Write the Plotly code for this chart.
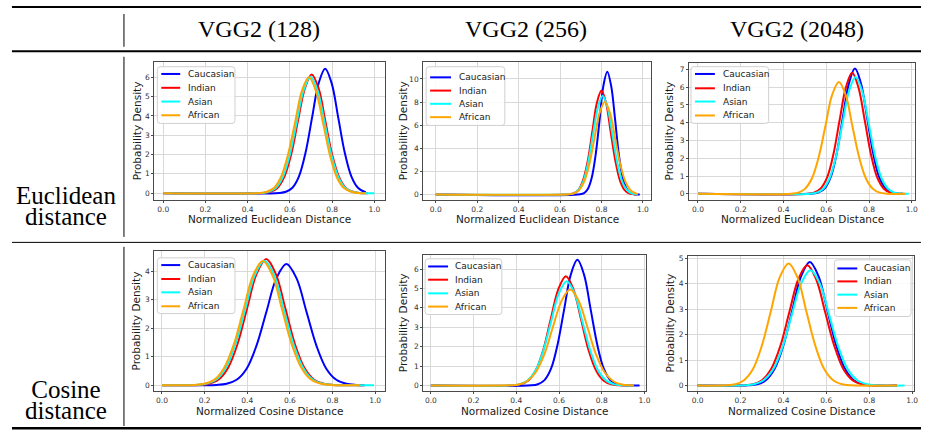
import plotly.graph_objects as go

# ---------------- data ----------------
GROUPS = ["Caucasian", "Indian", "Asian", "African"]
GROUP_COLORS = ["#0000ff", "#ff0000", "#00ffff", "#ffa500"]
COLUMN_TITLES = ["VGG2 (128)", "VGG2 (256)", "VGG2 (2048)"]
ROW_TITLES = [["Euclidean", "distance"], ["Cosine", "distance"]]
X_AXIS_TITLES = ["Normalized Euclidean Distance", "Normalized Cosine Distance"]
Y_AXIS_TITLE = "Probability Density"
X_TICKS = [0.0, 0.2, 0.4, 0.6, 0.8, 1.0]
Y_TICKS_EUC128 = [0, 1, 2, 3, 4, 5, 6]
Y_TICKS_EUC256 = [0, 2, 4, 6, 8, 10]
Y_TICKS_EUC2048 = [0, 1, 2, 3, 4, 5, 6, 7]
Y_TICKS_COS128 = [0, 1, 2, 3, 4]
Y_TICKS_COS256 = [0, 1, 2, 3, 4, 5, 6]
Y_TICKS_COS2048 = [0, 1, 2, 3, 4, 5]

# Euclidean, VGG2 (128)
EUC128_CAUCASIAN_X = [0.0, 0.550, 0.581, 0.612, 0.643, 0.674, 0.705, 0.736, 0.767, 0.798, 0.829, 0.860, 0.891, 0.922, 0.953, 0.960]
EUC128_CAUCASIAN_Y = [0.0, 0.01, 0.07, 0.28, 0.87, 2.09, 3.91, 5.69, 6.45, 5.69, 3.91, 2.09, 0.87, 0.28, 0.07, 0.05]
EUC128_INDIAN_X = [0.0, 0.476, 0.508, 0.541, 0.573, 0.606, 0.638, 0.671, 0.703, 0.736, 0.768, 0.800, 0.833, 0.865, 0.898, 0.930, 0.970]
EUC128_INDIAN_Y = [0.0, 0.01, 0.07, 0.27, 0.83, 2.00, 3.73, 5.43, 6.15, 5.43, 3.73, 2.00, 0.83, 0.27, 0.07, 0.01, 0.0]
EUC128_ASIAN_X = [0.0, 0.467, 0.500, 0.533, 0.566, 0.599, 0.632, 0.665, 0.698, 0.731, 0.764, 0.797, 0.830, 0.863, 0.896, 0.929, 1.0]
EUC128_ASIAN_Y = [0.0, 0.01, 0.07, 0.26, 0.82, 1.96, 3.66, 5.32, 6.03, 5.32, 3.66, 1.96, 0.82, 0.26, 0.07, 0.01, 0.0]
EUC128_AFRICAN_X = [0.0, 0.457, 0.491, 0.524, 0.557, 0.590, 0.624, 0.657, 0.690, 0.723, 0.757, 0.790, 0.823, 0.856, 0.890, 0.923, 0.960]
EUC128_AFRICAN_Y = [0.0, 0.01, 0.07, 0.26, 0.81, 1.95, 3.64, 5.30, 6.00, 5.30, 3.64, 1.95, 0.81, 0.26, 0.07, 0.01, 0.0]

# Euclidean, VGG2 (256)
EUC256_CAUCASIAN_X = [0.0, 0.697, 0.716, 0.734, 0.753, 0.772, 0.791, 0.809, 0.828, 0.847, 0.866, 0.884, 0.903, 0.922, 0.941, 0.959, 0.985]
EUC256_CAUCASIAN_Y = [0.0, 0.02, 0.12, 0.47, 1.44, 3.45, 6.45, 9.38, 10.63, 9.38, 6.45, 3.45, 1.44, 0.47, 0.12, 0.02, 0.0]
EUC256_INDIAN_X = [0.0, 0.645, 0.667, 0.689, 0.711, 0.734, 0.756, 0.778, 0.800, 0.822, 0.844, 0.867, 0.889, 0.911, 0.933, 0.955, 0.970]
EUC256_INDIAN_Y = [0.0, 0.02, 0.10, 0.40, 1.22, 2.92, 5.46, 7.94, 9.00, 7.94, 5.46, 2.92, 1.22, 0.40, 0.10, 0.02, 0.0]
EUC256_ASIAN_X = [0.0, 0.643, 0.666, 0.689, 0.713, 0.736, 0.759, 0.783, 0.806, 0.829, 0.853, 0.876, 0.899, 0.923, 0.946, 0.969, 0.975]
EUC256_ASIAN_Y = [0.0, 0.02, 0.09, 0.38, 1.16, 2.78, 5.19, 7.55, 8.55, 7.55, 5.19, 2.78, 1.16, 0.38, 0.09, 0.02, 0.01]
EUC256_AFRICAN_X = [0.0, 0.641, 0.666, 0.691, 0.716, 0.741, 0.766, 0.791, 0.816, 0.841, 0.866, 0.891, 0.916, 0.941, 0.966, 0.975]
EUC256_AFRICAN_Y = [0.0, 0.02, 0.09, 0.35, 1.08, 2.60, 4.85, 7.06, 8.00, 7.06, 4.85, 2.60, 1.08, 0.35, 0.09, 0.04]

# Euclidean, VGG2 (2048)
EUC2048_CAUCASIAN_X = [0.0, 0.536, 0.564, 0.593, 0.621, 0.649, 0.677, 0.706, 0.734, 0.762, 0.791, 0.819, 0.847, 0.876, 0.904, 0.933, 0.960]
EUC2048_CAUCASIAN_Y = [0.0, 0.02, 0.08, 0.31, 0.95, 2.29, 4.27, 6.21, 7.04, 6.21, 4.27, 2.29, 0.95, 0.31, 0.08, 0.02, 0.0]
EUC2048_INDIAN_X = [0.0, 0.516, 0.545, 0.574, 0.604, 0.633, 0.662, 0.692, 0.721, 0.750, 0.780, 0.809, 0.838, 0.868, 0.897, 0.927, 0.960]
EUC2048_INDIAN_Y = [0.0, 0.01, 0.08, 0.30, 0.92, 2.21, 4.12, 6.00, 6.80, 6.00, 4.12, 2.21, 0.92, 0.30, 0.08, 0.01, 0.0]
EUC2048_ASIAN_X = [0.0, 0.525, 0.555, 0.586, 0.616, 0.646, 0.676, 0.707, 0.737, 0.767, 0.798, 0.828, 0.858, 0.889, 0.919, 0.950, 0.985]
EUC2048_ASIAN_Y = [0.0, 0.01, 0.07, 0.29, 0.89, 2.13, 3.98, 5.80, 6.57, 5.80, 3.98, 2.13, 0.89, 0.29, 0.07, 0.01, 0.0]
EUC2048_AFRICAN_X = [0.0, 0.437, 0.469, 0.500, 0.532, 0.564, 0.596, 0.627, 0.659, 0.691, 0.722, 0.754, 0.786, 0.818, 0.849, 0.881, 0.970]
EUC2048_AFRICAN_Y = [0.0, 0.01, 0.07, 0.28, 0.85, 2.04, 3.81, 5.55, 6.29, 5.55, 3.81, 2.04, 0.85, 0.28, 0.07, 0.01, 0.0]

# Cosine, VGG2 (128)
COS128_CAUCASIAN_X = [0.0, 0.256, 0.303, 0.350, 0.397, 0.443, 0.490, 0.537, 0.584, 0.631, 0.678, 0.725, 0.771, 0.818, 0.865, 0.912, 0.950]
COS128_CAUCASIAN_Y = [0.0, 0.01, 0.05, 0.19, 0.58, 1.38, 2.58, 3.76, 4.26, 3.76, 2.58, 1.38, 0.58, 0.19, 0.05, 0.01, 0.0]
COS128_INDIAN_X = [0.0, 0.174, 0.219, 0.264, 0.309, 0.354, 0.399, 0.444, 0.489, 0.534, 0.579, 0.624, 0.669, 0.714, 0.759, 0.804, 0.950]
COS128_INDIAN_Y = [0.0, 0.01, 0.05, 0.19, 0.60, 1.44, 2.69, 3.91, 4.43, 3.91, 2.69, 1.44, 0.60, 0.19, 0.05, 0.01, 0.0]
COS128_ASIAN_X = [0.0, 0.161, 0.207, 0.253, 0.298, 0.344, 0.390, 0.435, 0.481, 0.527, 0.572, 0.618, 0.664, 0.709, 0.755, 0.801, 0.995]
COS128_ASIAN_Y = [0.0, 0.01, 0.05, 0.19, 0.59, 1.42, 2.65, 3.86, 4.37, 3.86, 2.65, 1.42, 0.59, 0.19, 0.05, 0.01, 0.0]
COS128_AFRICAN_X = [0.0, 0.153, 0.199, 0.245, 0.290, 0.336, 0.382, 0.427, 0.473, 0.519, 0.564, 0.610, 0.656, 0.701, 0.747, 0.793, 0.930]
COS128_AFRICAN_Y = [0.0, 0.01, 0.05, 0.19, 0.59, 1.41, 2.64, 3.85, 4.36, 3.85, 2.64, 1.41, 0.59, 0.19, 0.05, 0.01, 0.0]

# Cosine, VGG2 (256)
COS256_CAUCASIAN_X = [0.0, 0.470, 0.501, 0.532, 0.563, 0.593, 0.624, 0.655, 0.686, 0.717, 0.748, 0.779, 0.809, 0.840, 0.871, 0.902, 0.977]
COS256_CAUCASIAN_Y = [0.0, 0.01, 0.07, 0.28, 0.88, 2.10, 3.92, 5.71, 6.47, 5.71, 3.92, 2.10, 0.88, 0.28, 0.07, 0.01, 0.0]
COS256_INDIAN_X = [0.0, 0.384, 0.419, 0.455, 0.490, 0.526, 0.561, 0.597, 0.632, 0.667, 0.703, 0.738, 0.774, 0.809, 0.845, 0.880, 0.950]
COS256_INDIAN_Y = [0.0, 0.01, 0.06, 0.25, 0.76, 1.83, 3.41, 4.97, 5.63, 4.97, 3.41, 1.83, 0.76, 0.25, 0.06, 0.01, 0.0]
COS256_ASIAN_X = [0.0, 0.376, 0.413, 0.451, 0.488, 0.525, 0.562, 0.599, 0.636, 0.673, 0.710, 0.748, 0.785, 0.822, 0.859, 0.896, 0.950]
COS256_ASIAN_Y = [0.0, 0.01, 0.06, 0.24, 0.73, 1.74, 3.26, 4.74, 5.37, 4.74, 3.26, 1.74, 0.73, 0.24, 0.06, 0.01, 0.0]
COS256_AFRICAN_X = [0.0, 0.369, 0.410, 0.450, 0.490, 0.531, 0.571, 0.612, 0.652, 0.692, 0.733, 0.773, 0.814, 0.854, 0.894, 0.935, 0.950]
COS256_AFRICAN_Y = [0.0, 0.01, 0.05, 0.22, 0.67, 1.60, 3.00, 4.36, 4.94, 4.36, 3.00, 1.60, 0.67, 0.22, 0.05, 0.01, 0.0]

# Cosine, VGG2 (2048)
COS2048_CAUCASIAN_X = [0.0, 0.236, 0.277, 0.318, 0.359, 0.400, 0.441, 0.482, 0.523, 0.564, 0.605, 0.646, 0.687, 0.728, 0.769, 0.810, 0.930]
COS2048_CAUCASIAN_Y = [0.0, 0.01, 0.05, 0.21, 0.66, 1.58, 2.95, 4.29, 4.86, 4.29, 2.95, 1.58, 0.66, 0.21, 0.05, 0.01, 0.0]
COS2048_INDIAN_X = [0.0, 0.216, 0.258, 0.300, 0.342, 0.385, 0.427, 0.469, 0.511, 0.553, 0.595, 0.638, 0.680, 0.722, 0.764, 0.806, 0.930]
COS2048_INDIAN_Y = [0.0, 0.01, 0.05, 0.21, 0.64, 1.54, 2.87, 4.17, 4.73, 4.17, 2.87, 1.54, 0.64, 0.21, 0.05, 0.01, 0.0]
COS2048_ASIAN_X = [0.0, 0.218, 0.262, 0.306, 0.350, 0.394, 0.438, 0.482, 0.526, 0.570, 0.614, 0.658, 0.702, 0.746, 0.790, 0.834, 0.965]
COS2048_ASIAN_Y = [0.0, 0.01, 0.05, 0.20, 0.61, 1.47, 2.75, 4.00, 4.53, 4.00, 2.75, 1.47, 0.61, 0.20, 0.05, 0.01, 0.0]
COS2048_AFRICAN_X = [0.0, 0.133, 0.175, 0.216, 0.258, 0.299, 0.341, 0.382, 0.424, 0.466, 0.507, 0.549, 0.590, 0.632, 0.673, 0.715, 0.930]
COS2048_AFRICAN_Y = [0.0, 0.01, 0.05, 0.21, 0.65, 1.56, 2.91, 4.24, 4.80, 4.24, 2.91, 1.56, 0.65, 0.21, 0.05, 0.01, 0.0]

# ---------------- layout ----------------
W, H = 925, 431


def fx(p):
    return p / W


def fy(p):
    return 1 - p / H


panels = [
    dict(series=[(EUC128_CAUCASIAN_X, EUC128_CAUCASIAN_Y), (EUC128_INDIAN_X, EUC128_INDIAN_Y),
                 (EUC128_ASIAN_X, EUC128_ASIAN_Y), (EUC128_AFRICAN_X, EUC128_AFRICAN_Y)],
         yticks=Y_TICKS_EUC128, row=0, frame=(155, 387, 60, 199),
         xr=[-0.042, 1.052], yr=[-0.36, 6.81],
         leg=dict(box=(158, 236, 65, 122), line=(162, 181), text=186.5, rows=(72.3, 86.2, 100.0, 113.8)),
         ytitle_x=137),
    dict(series=[(EUC256_CAUCASIAN_X, EUC256_CAUCASIAN_Y), (EUC256_INDIAN_X, EUC256_INDIAN_Y),
                 (EUC256_ASIAN_X, EUC256_ASIAN_Y), (EUC256_AFRICAN_X, EUC256_AFRICAN_Y)],
         yticks=Y_TICKS_EUC256, row=0, frame=(425, 654, 60, 199),
         xr=[-0.061, 1.040], yr=[-0.49, 11.49],
         leg=dict(box=(428, 507, 65, 124), line=(432, 453), text=459, rows=(75.7, 89.0, 102.3, 115.7)),
         ytitle_x=405),
    dict(series=[(EUC2048_CAUCASIAN_X, EUC2048_CAUCASIAN_Y), (EUC2048_INDIAN_X, EUC2048_INDIAN_Y),
                 (EUC2048_ASIAN_X, EUC2048_ASIAN_Y), (EUC2048_AFRICAN_X, EUC2048_AFRICAN_Y)],
         yticks=Y_TICKS_EUC2048, row=0, frame=(692, 919, 61, 199),
         xr=[-0.042, 1.015], yr=[-0.35, 7.37],
         leg=dict(box=(694, 772, 65, 122), line=(698, 718), text=724, rows=(72.3, 86.7, 100.0, 114.0)),
         ytitle_x=672),
    dict(series=[(COS128_CAUCASIAN_X, COS128_CAUCASIAN_Y), (COS128_INDIAN_X, COS128_INDIAN_Y),
                 (COS128_ASIAN_X, COS128_ASIAN_Y), (COS128_AFRICAN_X, COS128_AFRICAN_Y)],
         yticks=Y_TICKS_COS128, row=1, frame=(155, 387, 250, 391),
         xr=[-0.036, 1.048], yr=[-0.21, 4.72],
         leg=dict(box=(158, 236, 257, 313), line=(162, 181), text=186.7, rows=(264.3, 278.3, 291.7, 305.7)),
         ytitle_x=137),
    dict(series=[(COS256_CAUCASIAN_X, COS256_CAUCASIAN_Y), (COS256_INDIAN_X, COS256_INDIAN_Y),
                 (COS256_ASIAN_X, COS256_ASIAN_Y), (COS256_AFRICAN_X, COS256_AFRICAN_Y)],
         yticks=Y_TICKS_COS256, row=1, frame=(425, 649, 254, 391),
         xr=[-0.036, 1.008], yr=[-0.29, 6.73],
         leg=dict(box=(427, 504, 258, 314), line=(430, 450), text=455, rows=(265.7, 279.0, 292.7, 306.0)),
         ytitle_x=405),
    dict(series=[(COS2048_CAUCASIAN_X, COS2048_CAUCASIAN_Y), (COS2048_INDIAN_X, COS2048_INDIAN_Y),
                 (COS2048_ASIAN_X, COS2048_ASIAN_Y), (COS2048_AFRICAN_X, COS2048_AFRICAN_Y)],
         yticks=Y_TICKS_COS2048, row=1, frame=(691, 918, 255, 391),
         xr=[-0.045, 1.009], yr=[-0.22, 5.10],
         leg=dict(box=(838, 915, 259, 316), line=(841, 861), text=866, rows=(267.7, 280.7, 294.0, 307.3)),
         ytitle_x=672),
]

fig = go.Figure()
shapes = []
annotations = []

axis_common = dict(
    showline=True, mirror=True, linecolor="#4a4a4a", linewidth=1,
    ticks="outside", ticklen=2, tickwidth=1, tickcolor="#4a4a4a",
    showgrid=True, gridcolor="#d9d9d9", gridwidth=1, zeroline=False,
    tickfont=dict(family="DejaVu Sans", size=7.5, color="#333333"),
    fixedrange=True,
)

layout_axes = {}
for i, p in enumerate(panels):
    n = "" if i == 0 else str(i + 1)
    xa, ya = "x" + n, "y" + n
    for (xs, ys), color in zip(p["series"], GROUP_COLORS):
        fig.add_trace(go.Scatter(
            x=xs, y=ys, mode="lines", xaxis=xa, yaxis=ya, showlegend=False,
            hoverinfo="skip", line=dict(color=color, width=2, shape="spline", smoothing=1.0),
        ))
    L, R, T, B = p["frame"]
    layout_axes["xaxis" + n] = dict(domain=[fx(L), fx(R)], range=p["xr"], anchor=ya,
                                    tickvals=X_TICKS, tickformat=".1f", **axis_common)
    layout_axes["yaxis" + n] = dict(domain=[fy(B), fy(T)], range=p["yr"], anchor=xa,
                                    tickvals=p["yticks"], **axis_common)
    # axis titles
    xt_y = 218.5 if p["row"] == 0 else 410.5
    annotations.append(dict(text=X_AXIS_TITLES[p["row"]], x=fx((L + R) / 2), y=fy(xt_y),
                            xref="paper", yref="paper", showarrow=False,
                            xanchor="center", yanchor="middle",
                            font=dict(family="DejaVu Sans", size=10.5, color="#1a1a1a")))
    annotations.append(dict(text=Y_AXIS_TITLE, x=fx(p["ytitle_x"]), y=fy((T + B) / 2),
                            xref="paper", yref="paper", showarrow=False, textangle=-90,
                            xanchor="center", yanchor="middle",
                            font=dict(family="DejaVu Sans", size=10.5, color="#1a1a1a")))
    # legend box (rounded)
    lg = p["leg"]
    bl, br, bt, bb = lg["box"]
    r = 3
    x0, x1 = fx(bl), fx(br)
    y0, y1 = fy(bt), fy(bb)
    rx, ry = r / W, r / H
    path = (f"M {x0+rx},{y0} L {x1-rx},{y0} Q {x1},{y0} {x1},{y0-ry} "
            f"L {x1},{y1+ry} Q {x1},{y1} {x1-rx},{y1} L {x0+rx},{y1} "
            f"Q {x0},{y1} {x0},{y1+ry} L {x0},{y0-ry} Q {x0},{y0} {x0+rx},{y0} Z")
    shapes.append(dict(type="path", path=path, xref="paper", yref="paper", layer="above",
                       fillcolor="rgba(255,255,255,0.85)", line=dict(color="#d0d0d0", width=1)))
    for name, color, ry_ in zip(GROUPS, GROUP_COLORS, lg["rows"]):
        shapes.append(dict(type="line", xref="paper", yref="paper", layer="above",
                           x0=fx(lg["line"][0]), x1=fx(lg["line"][1]), y0=fy(ry_), y1=fy(ry_),
                           line=dict(color=color, width=2)))
        annotations.append(dict(text=name, x=fx(lg["text"]), y=fy(ry_), xref="paper", yref="paper",
                                showarrow=False, xanchor="left", yanchor="middle",
                                font=dict(family="DejaVu Sans", size=9, color="#1a1a1a")))


# table rules
def hrule(y, width):
    shapes.append(dict(type="line", xref="paper", yref="paper", x0=fx(12), x1=1.0,
                       y0=fy(y), y1=fy(y), line=dict(color="black", width=width)))


def vrule(y0, y1):
    shapes.append(dict(type="line", xref="paper", yref="paper", x0=fx(124.5), x1=fx(124.5),
                       y0=fy(y0), y1=fy(y1), line=dict(color="black", width=1)))


hrule(5, 2)
hrule(49.5, 2)
hrule(241.5, 1)
hrule(428.3, 2.5)
vrule(12, 45)
vrule(55, 236)
vrule(246, 426)

for title, cx in zip(COLUMN_TITLES, [260, 528, 800]):
    annotations.append(dict(text=title, x=fx(cx), y=fy(27), xref="paper", yref="paper",
                            showarrow=False, xanchor="center", yanchor="middle",
                            font=dict(family="Liberation Serif", size=24, color="black")))
# two-line row titles: small base font sets the tight line spacing, spans set the glyph size
for lines, yc in zip(ROW_TITLES, [204.5, 400]):
    txt = "<br>".join(f"<span style='font-size:25px'>{s}</span>" for s in lines)
    annotations.append(dict(text=txt, x=fx(66), y=fy(yc), xref="paper", yref="paper",
                            showarrow=False, xanchor="center", yanchor="middle",
                            font=dict(family="Liberation Serif", size=16, color="black")))

fig.update_layout(
    width=W, height=H, autosize=False,
    margin=dict(l=0, r=0, t=0, b=0),
    paper_bgcolor="white", plot_bgcolor="white",
    showlegend=False,
    shapes=shapes, annotations=annotations,
    **layout_axes,
)

fig.write_html("out.html", config={"displayModeBar": False},
               post_script="document.body.style.margin='0';document.body.style.padding='0';")
